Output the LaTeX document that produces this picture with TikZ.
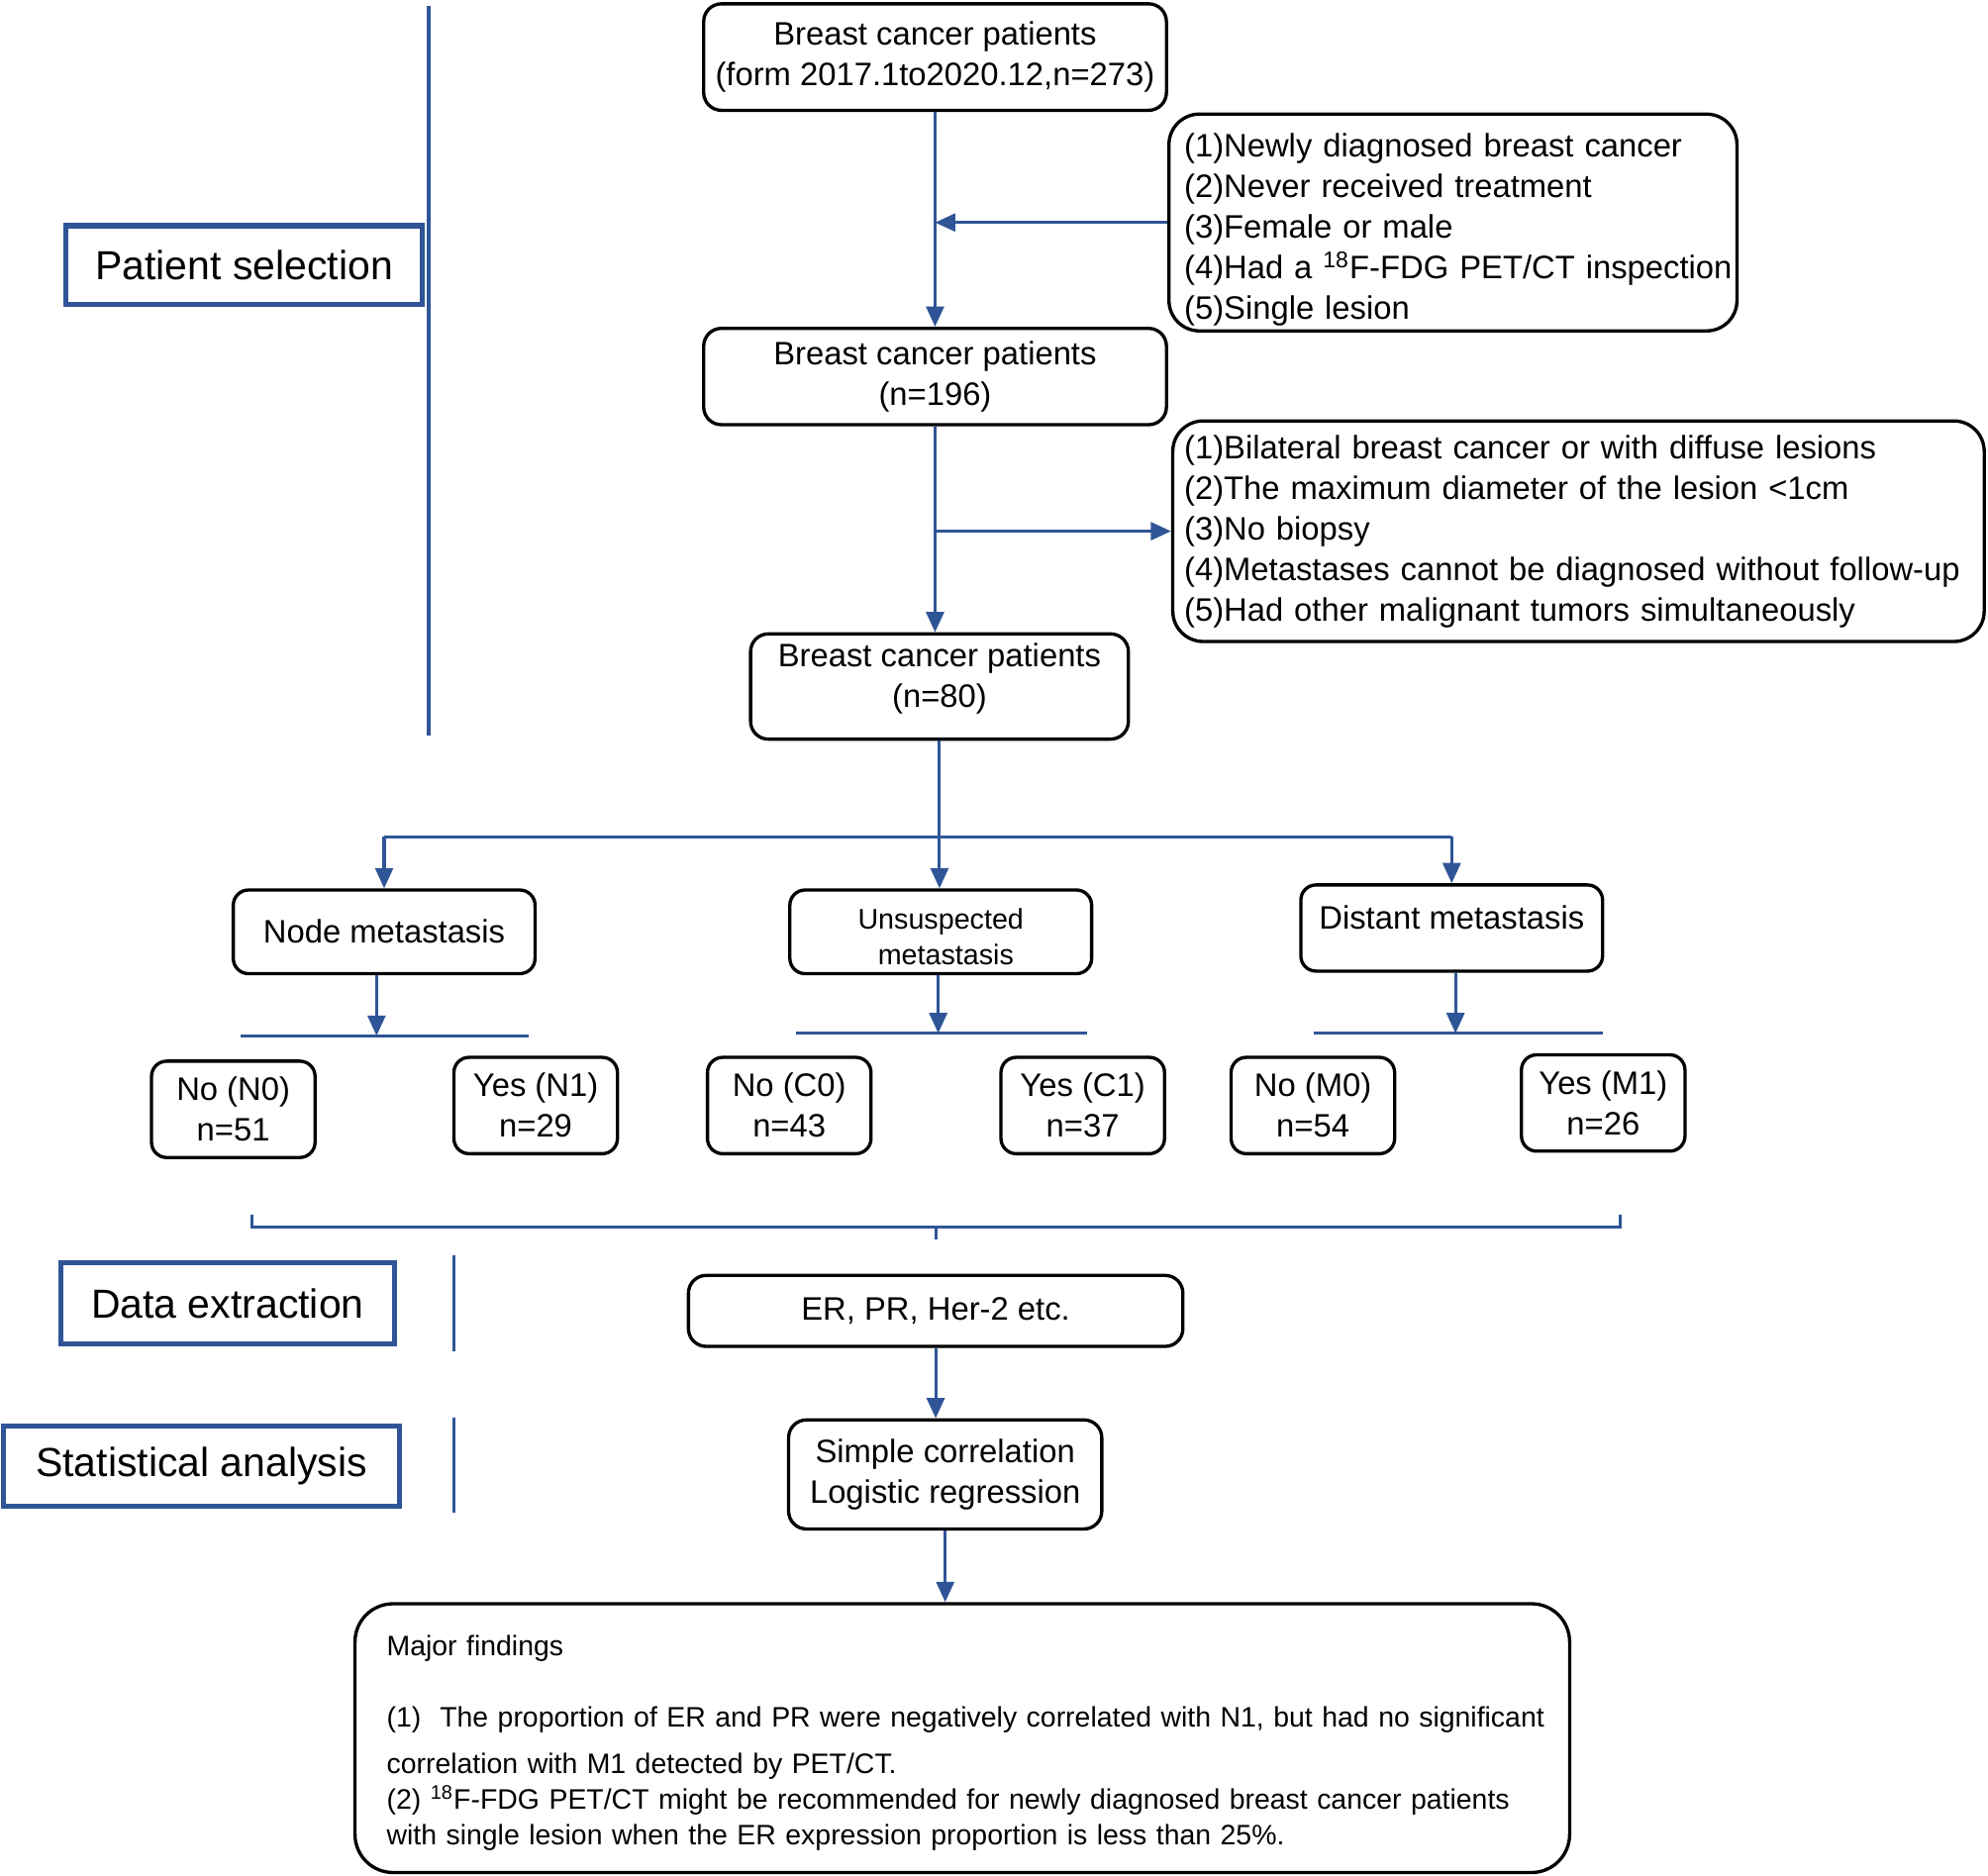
\documentclass[tikz,border=0pt]{standalone}
\usepackage{fontspec}
\setmainfont{Liberation Sans}
\usetikzlibrary{arrows.meta}
\definecolor{fblue}{RGB}{47,85,151}
\begin{document}
\begin{tikzpicture}[x=0.5pt,y=-0.5pt,
  rbox/.style={draw=black, line width=1.3pt, rounded corners=7pt, inner sep=0pt, align=center, font=\fontsize{12.8}{16}\selectfont},
  sbox/.style={rbox, rounded corners=6pt, minimum width=64.5pt, minimum height=38pt},
  lbox/.style={draw=fblue, line width=2pt, inner sep=0pt, font=\fontsize{16}{19}\selectfont},
  bl/.style={draw=fblue, line width=1.2pt},
  arr/.style={bl, -{Triangle[width=7pt,length=8pt]}},
]
\useasboundingbox (0,0) rectangle (1568,1479);

% section labels
\node[lbox, minimum width=140.5pt, minimum height=31pt] (ps) at (192.5,209) {Patient selection};
\node[lbox, minimum width=131.5pt, minimum height=32pt] (de) at (179.5,1028) {Data extraction};
\node[lbox, minimum width=156pt, minimum height=31.5pt] (sa) at (159,1156.5) {Statistical analysis};

% separators
\coordinate (s1a) at (338,5);   \coordinate (s1b) at (338,580);
\coordinate (s2a) at (358,990); \coordinate (s2b) at (358,1066);
\coordinate (s3a) at (358,1118);\coordinate (s3b) at (358,1193);
\draw[bl, line width=1.4pt] (s1a) -- (s1b);
\draw[bl, line width=1.4pt] (s2a) -- (s2b);
\draw[bl, line width=1.4pt] (s3a) -- (s3b);

% main boxes
\node[rbox, minimum width=182.5pt, minimum height=42pt] (b1) at (737.5,45)
  {Breast cancer patients\\(form 2017.1to2020.12,n=273)};
\node[rbox, minimum width=182.5pt, minimum height=38pt] (b2) at (737.5,297)
  {Breast cancer patients\\(n=196)};
\node[rbox, minimum width=149pt, minimum height=41.5pt] (b3) at (741,541.5)
  {Breast cancer patients\\(n=80)\\[-7.3pt]\mbox{}};

\node[rbox, rounded corners=12pt, minimum width=224pt, minimum height=85.5pt, text width=212pt, inner xsep=6pt, align=left] (c1) at (1146,175.5)
  {\mbox{}\\[-1pt]
   (1)Newly diagnosed breast cancer\\
   (2)Never received treatment\\
   (3)Female or male\\
   \mbox{(4)Had a \textsuperscript{18}F-FDG PET/CT inspection}\\
   (5)Single lesion};
\node[rbox, rounded corners=12pt, minimum width=320pt, minimum height=87pt, text width=311pt, inner xsep=4.5pt, align=left] (c2) at (1245,419)
  {\mbox{(1)Bilateral breast cancer or with diffuse lesions}\\
   \mbox{(2)The maximum diameter of the lesion <1cm}\\
   (3)No biopsy\\
   \mbox{(4)Metastases cannot be diagnosed without follow-up}\\
   \mbox{(5)Had other malignant tumors simultaneously}};

\draw[arr] (b1) -- (b2);
\draw[arr] (c1.west) -- (c1.west -| b1.south);
\draw[arr] (b2.south) -- (b2.south |- b3.north);
\draw[arr] (b2.south |- c2.west) -- (c2.west);

% three categories
\node[rbox, rounded corners=6pt, minimum width=119pt, minimum height=33pt] (nm) at (303,735) {Node metastasis};
\node[rbox, rounded corners=6pt, minimum width=119pt, minimum height=33pt, font=\fontsize{11.2}{14}\selectfont] (um) at (742,735) {\mbox{}\\[-1.8pt]Unsuspected\\\hspace*{4pt}metastasis};
\node[rbox, rounded corners=6pt, minimum width=119pt, minimum height=34pt] (dm) at (1145,732) {\raisebox{4pt}[\height][\depth]{Distant metastasis}};

\coordinate (j) at (741,660);
\draw[bl] (nm.north |- j) -- (dm.north |- j);
\draw[arr] (b3.south) -- (b3.south |- um.north);
\draw[arr] (nm.north |- j) -- (nm.north);
\draw[arr] (dm.north |- j) -- (dm.north);

% split bars
\coordinate (n1) at (190,817);  \coordinate (n2) at (417,817);  \coordinate (nt) at (297,817);
\coordinate (u1) at (628,815);  \coordinate (u2) at (857,815);  \coordinate (ut) at (740,815);
\coordinate (d1) at (1036,815); \coordinate (d2) at (1264,815); \coordinate (dt) at (1148,815);
\draw[bl] (n1) -- (n2);
\draw[bl] (u1) -- (u2);
\draw[bl] (d1) -- (d2);
\draw[arr] (nt |- nm.south) -- (nt);
\draw[arr] (ut |- um.south) -- (ut);
\draw[arr] (dt |- dm.south) -- (dt);

% outcome boxes
\node[sbox] (n0) at (184,875)    {No (N0)\\n=51};
\node[sbox] (y1) at (422.5,872)  {Yes (N1)\\n=29};
\node[sbox] (c0) at (622.5,872)  {No (C0)\\n=43};
\node[sbox] (cy) at (854,872)    {Yes (C1)\\n=37};
\node[sbox] (m0) at (1035.5,872) {No (M0)\\n=54};
\node[sbox] (my) at (1264.5,870) {Yes (M1)\\n=26};

% bracket
\coordinate (brL) at (199,958); \coordinate (brR) at (1278,958);
\coordinate (brC) at (738,968); \coordinate (brT) at (738,978);
\draw[bl] (brL) -- (brL |- brC) -- (brR |- brC) -- (brR);
\draw[bl] (brC) -- (brT);

% analysis
\node[rbox, minimum width=195pt, minimum height=28pt] (er) at (738,1034) {ER, PR, Her-2 etc.};
\node[rbox, minimum width=123.5pt, minimum height=43pt] (sc) at (745.5,1163) {Simple correlation\\Logistic regression};
\node[rbox, rounded corners=15pt, minimum width=479pt, minimum height=106pt, text width=454pt, inner xsep=12.5pt, align=left, font=\fontsize{11.1}{14}\selectfont] (mf) at (759,1371)
  {\mbox{}\\[-1.9pt]
   Major findings\\[14pt]
   \mbox{(1)\ \ The proportion of ER and PR were negatively correlated with N1, but had no significant}\\[4.5pt]
   correlation with M1 detected by PET/CT.\\
   \mbox{(2) \textsuperscript{18}F-FDG PET/CT might be recommended for newly diagnosed breast cancer patients}\\
   \mbox{with single lesion when the ER expression proportion is less than 25\%.}};

\draw[arr] (er.south) -- (er.south |- sc.north);
\draw[arr] (sc.south) -- (sc.south |- mf.north);
\end{tikzpicture}
\end{document}
